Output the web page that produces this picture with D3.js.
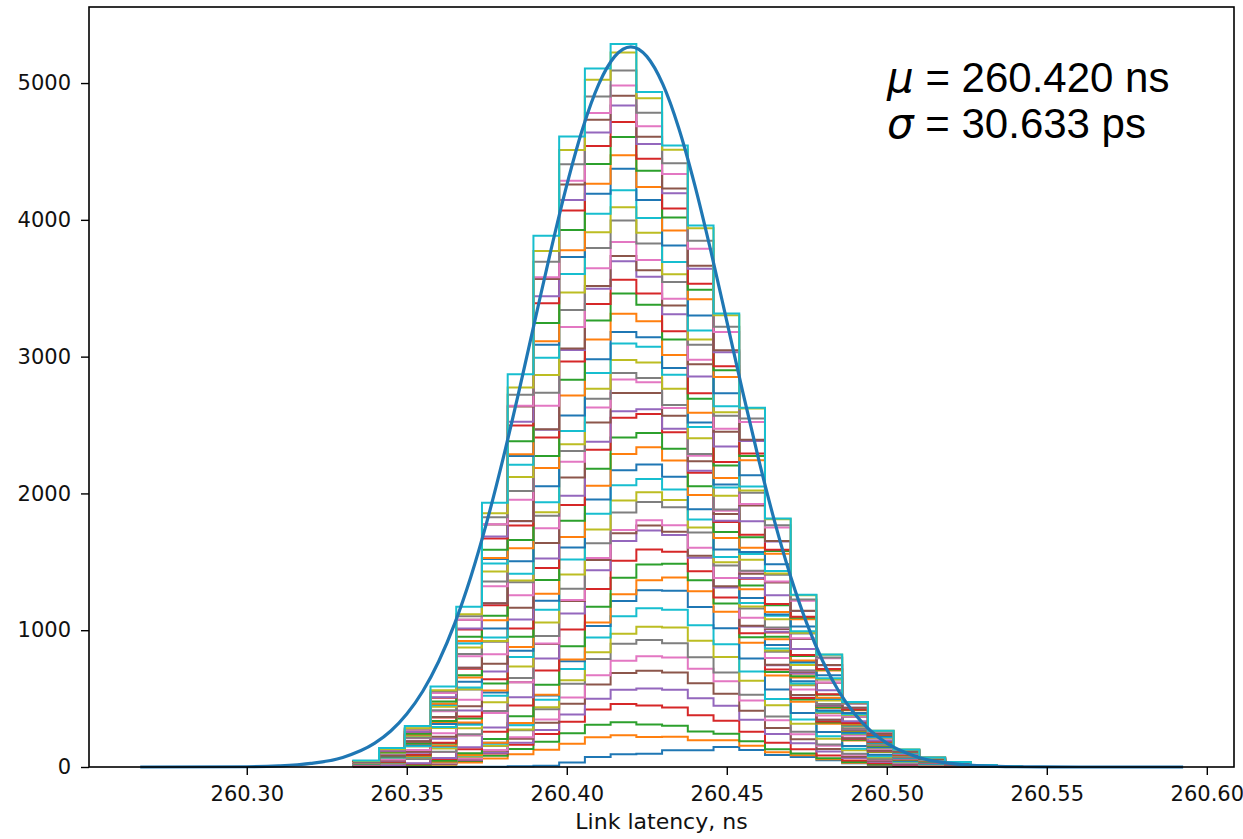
<!DOCTYPE html>
<html>
<head>
<meta charset="utf-8">
<script src="https://cdn.jsdelivr.net/npm/d3@7"></script>
<style>
  body { margin: 0; background: #fff; }
  .axisText text { font-family: "DejaVu Sans", sans-serif; font-size: 21px; fill: #111; }
  .axisText line { stroke: #000; stroke-width: 1.4; }
  .axisText path { display: none; }
</style>
</head>
<body>
<div id="container"></div>
<script>
// counts per bin for each run (stacked, bottom run first)
const run01 = [0,0,0,0,1,2,5,10,32,73,93,97,122,122,146,124,88,73,49,27,15,7,4,2,1,0];
const run02 = [1,3,7,16,32,60,88,116,138,145,139,122,99,73,49,32,20,12,7,4,3,1,0,0,0,0];
const run03 = [0,1,2,5,10,21,39,58,76,90,95,91,80,65,48,32,21,13,8,5,3,2,1,0,0,0];
const run04 = [0,0,1,3,7,15,31,57,85,112,133,140,134,118,95,70,48,31,20,11,7,4,3,1,0,0];
const run05 = [0,0,0,1,3,7,14,29,53,79,104,124,130,125,109,88,65,44,29,18,10,5,3,3,1,0];
const run06 = [0,0,1,3,7,14,29,53,79,104,124,130,125,109,88,65,44,29,18,10,7,4,3,1,0,0];
const run07 = [0,0,0,1,2,6,12,24,45,67,88,105,110,106,92,75,55,37,24,15,9,6,3,2,1,0];
const run08 = [0,1,3,6,14,28,51,76,100,119,125,120,105,85,63,43,28,18,10,6,4,3,1,0,0,0];
const run09 = [0,0,0,0,1,2,6,13,26,49,73,96,114,120,115,101,82,60,41,26,14,5,3,3,1,0];
const run10 = [0,0,1,3,7,15,30,55,82,108,128,135,130,113,92,68,46,30,19,11,7,4,3,1,0,0];
const run11 = [0,0,0,1,3,7,15,31,57,85,112,133,140,134,118,95,70,48,31,20,11,4,2,2,1,0];
const run12 = [0,0,0,0,0,1,2,6,13,26,49,73,96,114,120,115,101,82,60,41,20,8,4,4,2,1];
const run13 = [0,1,2,6,13,26,49,73,96,114,120,115,101,82,60,41,26,17,10,6,4,2,1,0,0,0];
const run14 = [1,3,7,14,29,53,79,104,124,130,125,109,88,65,44,29,18,10,7,4,3,1,0,0,0,0];
const run15 = [0,1,3,7,16,32,59,88,116,138,145,139,122,99,73,49,32,20,12,7,4,3,1,0,0,0];
const run16 = [6,16,31,43,88,105,110,106,92,75,55,37,24,15,9,6,3,2,1,0,0,0,0,0,0,0];
const run17 = [0,0,0,0,0,1,1,3,7,13,25,37,48,57,60,58,50,41,30,20,13,4,3,3,2,1];
const run18 = [0,0,1,3,7,15,30,55,82,108,128,135,130,113,92,68,46,30,19,11,7,4,3,1,0,0];
const run19 = [2,5,12,23,43,64,84,100,105,101,88,71,53,36,23,15,8,5,3,2,1,0,0,0,0,0];
const run20 = [1,2,6,13,25,47,70,92,109,115,110,97,78,58,39,25,16,9,6,3,2,1,0,0,0,0];
const run21 = [0,1,2,6,12,24,45,67,88,105,110,106,92,75,55,37,24,15,9,6,3,2,1,0,0,0];
const run22 = [0,0,1,3,6,14,28,51,76,100,119,125,120,105,85,63,43,28,18,10,6,4,3,1,0,0];
const run23 = [1,3,6,14,28,51,76,100,119,125,120,105,85,63,43,28,18,10,6,4,3,1,0,0,0,0];
const run24 = [0,1,3,7,16,32,59,88,116,138,145,139,122,99,73,49,32,20,12,7,4,3,1,0,0,0];
const run25 = [4,8,15,29,43,56,67,70,67,59,48,35,24,15,10,6,4,2,1,1,0,0,0,0,0,0];
const run26 = [1,3,7,15,31,57,85,112,133,140,134,118,95,70,48,31,20,11,7,4,3,1,0,0,0,0];
const run27 = [2,6,13,25,47,70,92,109,115,110,97,78,58,39,25,16,9,6,3,2,1,0,0,0,0,0];
const run28 = [5,14,27,38,76,90,95,91,80,65,48,32,21,13,8,5,3,2,1,0,0,0,0,0,0,0];
const run29 = [0,0,0,1,2,6,13,26,49,73,96,114,120,115,101,82,60,41,26,17,10,6,4,2,1,0];
const run30 = [0,1,2,6,13,26,49,73,96,114,120,115,101,82,60,41,26,17,10,6,4,2,1,0,0,0];
const run31 = [2,5,11,22,41,65,91,116,113,101,84,68,50,34,22,14,8,5,3,2,1,0,0,0,0,0];
const run32 = [1,3,7,15,31,61,96,133,146,145,134,118,95,70,48,31,20,11,7,4,3,1,0,0,0,0];
const run33 = [0,1,3,7,16,32,59,88,116,138,147,121,113,103,91,78,48,33,21,9,4,3,1,0,0,0];
const run34 = [2,6,13,26,49,77,107,135,133,120,101,82,60,41,26,17,10,6,4,2,1,0,0,0,0,0];
const run35 = [0,0,1,3,7,15,31,57,85,112,135,122,125,122,113,99,64,44,29,13,7,4,3,1,0,0];
const run36 = [0,0,0,0,0,1,2,5,10,20,39,47,63,90,108,115,92,74,54,33,16,6,3,3,2,2];
const run37 = [4,11,22,42,84,124,154,171,157,131,102,75,51,33,21,12,8,5,3,2,0,0,0,0,0,0];
const run38 = [0,2,3,8,17,34,64,95,124,147,157,121,121,109,96,82,50,35,21,10,5,3,2,0,0,0];
const run39 = [2,6,13,25,47,74,103,130,128,115,97,78,58,39,25,16,9,6,3,2,1,0,0,0,0,0];
const run40 = [1,3,7,14,29,57,90,125,137,135,125,109,88,65,44,29,18,10,7,4,3,1,0,0,0,0];
const run41 = [0,2,3,8,17,34,64,95,124,147,157,131,121,109,96,82,50,35,21,10,5,3,2,0,0,0];
const run42 = [0,0,0,1,2,6,13,26,49,73,98,96,111,119,119,111,76,54,35,19,10,6,4,2,1,0];
const run43 = [1,3,7,15,31,61,94,133,148,145,134,118,95,70,48,31,20,11,7,4,3,1,0,0,0,0];
const run44 = [3,7,14,29,53,83,115,145,143,130,109,88,65,44,29,18,10,7,4,3,1,0,0,0,0,0];
const run45 = [0,0,1,3,6,14,28,51,76,100,121,107,111,109,103,92,59,41,27,12,6,4,3,1,0,0];
const run46 = [3,9,17,31,64,88,111,126,114,93,71,53,36,23,15,8,5,3,2,1,0,0,0,0,0,0];
const run47 = [0,0,0,0,1,2,6,13,26,49,75,78,105,124,133,130,98,73,50,28,15,5,3,3,1,1];
const run48 = [1,2,6,13,25,51,81,113,122,120,110,97,78,58,39,25,16,9,6,3,2,1,0,0,0,0];
const run49 = [0,1,3,7,14,29,53,79,104,124,132,107,100,92,83,73,45,31,19,9,4,3,1,0,0,0];
const run50 = [3,8,15,27,55,76,97,111,99,81,61,45,31,20,13,7,5,3,2,1,0,0,0,0,0,0];

const runs = [run01,run02,run03,run04,run05,run06,run07,run08,run09,run10,
              run11,run12,run13,run14,run15,run16,run17,run18,run19,run20,
              run21,run22,run23,run24,run25,run26,run27,run28,run29,run30,
              run31,run32,run33,run34,run35,run36,run37,run38,run39,run40,
              run41,run42,run43,run44,run45,run46,run47,run48,run49,run50];

// histogram bins (ns)
const binStart = 260.3333;
const binWidth = 0.00804;
const nBins = 26;

// fitted normal curve
const fitX = [260.2667,260.30,260.31,260.32,260.33,260.34,260.345,260.35,260.355,260.36,260.365,260.37,
              260.375,260.38,260.385,260.39,260.395,260.40,260.405,260.41,260.415,260.42,260.425,260.43,
              260.435,260.44,260.445,260.45,260.455,260.46,260.465,260.47,260.475,260.48,260.485,260.49,
              260.495,260.50,260.51,260.52,260.53,260.54,260.56,260.5926];
const fitY = [0,2,8,26,70,174,263,387,554,773,1050,1389,
              1790,2245,2741,3260,3774,4254,4670,4992,5195,5265,5195,4992,
              4670,4254,3774,3260,2741,2245,1790,1389,1050,773,554,387,
              263,174,70,26,8,2,0,0];

const xTicks = [260.30,260.35,260.40,260.45,260.50,260.55,260.60];
const yTicks = [0,1000,2000,3000,4000,5000];
const xDomain = [260.2507, 260.6085];
const yDomain = [0, 5556];

const muLabel = ["\u03bc", " = 260.420 ns"];
const sigmaLabel = ["\u03c3", " = 30.633 ps"];

function drawChart() {
  d3.select("#container").select("svg").remove();

  const margin = { top: 7, right: 9, bottom: 72, left: 89 };
  const width = 1243 - margin.left - margin.right;
  const height = 839 - margin.top - margin.bottom;

  const svg = d3
    .select("#container")
    .append("svg")
    .attr("width", 1243)
    .attr("height", 839)
    .append("g")
    .attr("transform", `translate(${margin.left},${margin.top})`);

  const x = d3.scaleLinear().domain(xDomain).range([0, width]);
  const y = d3.scaleLinear().domain(yDomain).range([height, 0]);

  // stack the runs bin by bin
  const rows = d3.range(nBins).map(j => runs.map(r => r[j] || 0));
  const layers = d3.stack()
    .keys(d3.range(runs.length))
    .value((d, k) => d[k])(rows);
  const edges = d3.range(nBins + 1).map(i => binStart + i * binWidth);
  const color = d3.scaleOrdinal(d3.schemeCategory10);

  svg.append("g")
    .selectAll("path")
    .data(layers)
    .enter()
    .append("path")
    .attr("fill", "none")
    .attr("stroke", (d, i) => color(i % 10))
    .attr("stroke-width", 2)
    .attr("d", L => {
      let p = `M${x(edges[0])},${y(L[0][0])}V${y(L[0][1])}`;
      for (let j = 0; j < L.length; j++) {
        p += `H${x(edges[j + 1])}`;
        if (j < L.length - 1) p += `V${y(L[j + 1][1])}`;
      }
      p += `V${y(L[L.length - 1][0])}`;
      return p;
    });

  // fitted curve
  const line = d3.line()
    .x(d => x(d[0]))
    .y(d => y(d[1]))
    .curve(d3.curveMonotoneX);
  svg.append("path")
    .datum(fitX.map((v, i) => [v, fitY[i]]))
    .attr("fill", "none")
    .attr("stroke", "#1f77b4")
    .attr("stroke-width", 3.2)
    .attr("d", line);

  // axes
  svg.append("g")
    .attr("transform", `translate(0, ${height})`)
    .attr("class", "axisText")
    .call(d3.axisBottom(x).tickValues(xTicks).tickFormat(d3.format(".2f"))
      .tickSize(8).tickPadding(11));

  svg.append("g")
    .attr("class", "axisText")
    .call(d3.axisLeft(y).tickValues(yTicks).tickFormat(d3.format("d"))
      .tickSize(8).tickPadding(10));

  svg.append("rect")
    .attr("x", 0).attr("y", 0)
    .attr("width", width).attr("height", height)
    .attr("fill", "none")
    .attr("stroke", "#000")
    .attr("stroke-width", 1.6);

  svg.append("text")
    .attr("x", width / 2)
    .attr("y", height + 62)
    .attr("text-anchor", "middle")
    .style("font-family", "'DejaVu Sans', sans-serif")
    .style("font-size", "22px")
    .attr("fill", "#111")
    .text("Link latency, ns");

  // fit annotation
  [[muLabel, 85], [sigmaLabel, 131]].forEach(([lab, yy]) => {
    const t = svg.append("text")
      .attr("x", 798)
      .attr("y", yy)
      .style("font-size", "42px")
      .attr("fill", "#000");
    t.append("tspan")
      .style("font-family", "'DejaVu Sans', sans-serif")
      .style("font-style", "italic")
      .text(lab[0]);
    t.append("tspan")
      .style("font-family", "'Liberation Sans', Arial, sans-serif")
      .text(lab[1]);
  });
}

drawChart();
</script>
</body>
</html>
